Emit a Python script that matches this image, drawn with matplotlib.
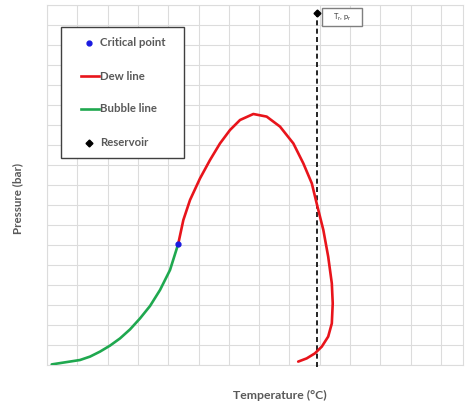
import matplotlib
matplotlib.use("Agg")
import matplotlib.pyplot as plt
from matplotlib.patches import Rectangle

# data (grid units: x = temperature, y = pressure)
bubble_T = [0.155, 1.09, 1.42, 1.75, 2.08, 2.41, 2.74, 3.07, 3.40, 3.73, 4.06, 4.33]
bubble_p = [0.03, 0.25, 0.42, 0.67, 0.97, 1.33, 1.78, 2.33, 2.95, 3.75, 4.75, 6.05]

dew_T = [4.33, 4.50, 4.72, 5.05, 5.38, 5.71, 6.04, 6.37, 6.81, 7.25, 7.69, 8.13, 8.46,
         8.74, 8.90, 9.12, 9.28, 9.40, 9.43, 9.40, 9.28, 9.07, 8.84, 8.57, 8.29]
dew_p = [6.05, 7.25, 8.25, 9.33, 10.25, 11.08, 11.75, 12.25, 12.55, 12.42, 11.92, 11.08, 10.08,
         9.08, 8.08, 6.75, 5.42, 4.08, 3.08, 2.08, 1.42, 0.92, 0.58, 0.33, 0.17]

critical_T, critical_p = 4.33, 6.05
reservoir_T, reservoir_p = 8.91, 17.6

legend_labels = ['Critical point', 'Dew line', 'Bubble line', 'Reservoir']

plt.rcParams['font.family'] = ['Lato', 'DejaVu Sans']
plt.rcParams['mathtext.default'] = 'regular'

W, H = 472, 407
fig = plt.figure(figsize=(W / 100, H / 100), dpi=100)
ax = fig.add_axes([47 / W, 42 / H, 416 / W, 360 / H])

ax.set_xlim(0, 416 / 30.3)
ax.set_ylim(0, 18)
ax.set_xticks([i for i in range(14)])
ax.set_yticks([i for i in range(19)])
ax.tick_params(length=0, labelleft=False, labelbottom=False)
ax.grid(True, color='#dcdcdc', linewidth=0.8)
for s in ax.spines.values():
    s.set_color('#dcdcdc')
    s.set_linewidth(0.8)

# reservoir temperature line
ax.plot([reservoir_T, reservoir_T], [-0.1, reservoir_p], color='black',
        linestyle=(0, (3, 2)), linewidth=1.2, clip_on=False, zorder=3)
ax.plot(bubble_T, bubble_p, color='#1fa84f', linewidth=1.9, zorder=4,
        solid_capstyle='round', solid_joinstyle='round')
ax.plot(dew_T, dew_p, color='#e8141b', linewidth=1.9, zorder=4,
        solid_capstyle='round', solid_joinstyle='round')
ax.plot(critical_T, critical_p, 'o', color='#1a1ae0', markersize=3.5, zorder=5)
ax.plot(reservoir_T, reservoir_p, 'D', color='black', markersize=3.5, zorder=5,
        clip_on=False)

# little label box next to the reservoir point
def fx(px):
    return px / W

def fy(py):
    return 1 - py / H

fig.patches.append(Rectangle((fx(322), fy(26)), 40 / W, 18 / H, transform=fig.transFigure,
                             fc='white', ec='#7f7f7f', lw=1))
fig.text(fx(342), fy(17), 'T$_r$, p$_r$', fontsize=5.5, color='#404040',
         ha='center', va='center')

# legend drawn by hand to match the boxed layout
fig.patches.append(Rectangle((fx(61), fy(158)), 123 / W, 131 / H, transform=fig.transFigure,
                             fc='white', ec='#404040', lw=1, zorder=6))
rows_y = [43, 76, 109, 143]
fig.lines.append(plt.Line2D([fx(89)], [fy(rows_y[0])], marker='o', color='#1a1ae0',
                            markersize=3.5, transform=fig.transFigure, zorder=7))
fig.lines.append(plt.Line2D([fx(81), fx(99)], [fy(rows_y[1])] * 2, color='#e8141b', lw=1.9,
                            transform=fig.transFigure, zorder=7))
fig.lines.append(plt.Line2D([fx(81), fx(99)], [fy(rows_y[2])] * 2, color='#1fa84f', lw=1.9,
                            transform=fig.transFigure, zorder=7))
fig.lines.append(plt.Line2D([fx(89)], [fy(rows_y[3])], marker='D', color='black',
                            markersize=3.5, transform=fig.transFigure, zorder=7))
for lab, ry in zip(legend_labels, rows_y):
    fig.text(fx(100), fy(ry), lab, fontsize=8.2, fontweight='bold', color='#595959',
             ha='left', va='center', zorder=8)

fig.text(fx(18), fy(198), 'Pressure (bar)', rotation=90, ha='center', va='center',
         fontsize=8.4, fontweight='bold', color='#595959')
fig.text(fx(280), fy(395), 'Temperature (°C)', ha='center', va='center',
         fontsize=8.8, fontweight='bold', color='#595959')

fig.savefig('out.png', dpi=100)
